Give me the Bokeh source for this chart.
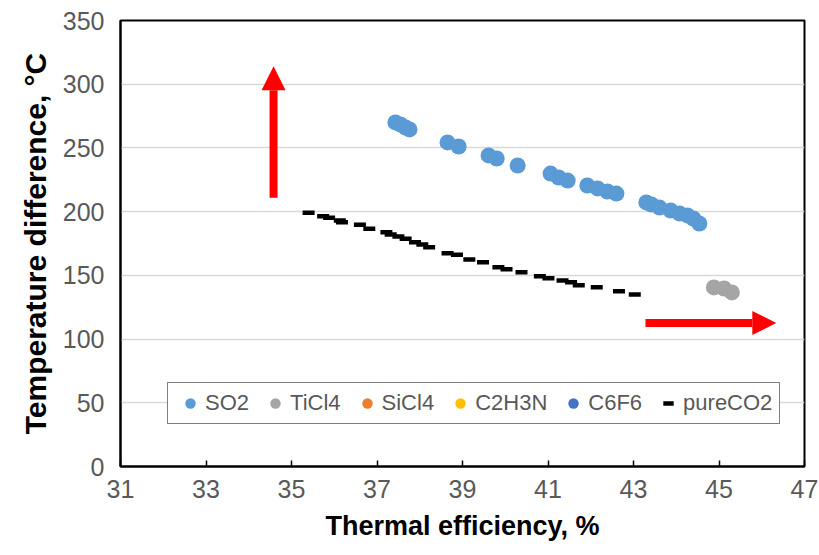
import numpy as np
from bokeh.plotting import figure
from bokeh.models import (Arrow, NormalHead, Legend, LegendItem, FixedTicker,
                          ColumnDataSource)
from bokeh.embed import file_html
from bokeh.resources import INLINE

# Thermal efficiency (%) vs. temperature difference (°C) for each working fluid
so2_eff = [37.43, 37.55, 37.67, 37.76, 38.65, 38.91, 39.61, 39.80, 40.29,
           41.06, 41.25, 41.46, 41.92, 42.16, 42.39, 42.60, 43.30, 43.42,
           43.61, 43.87, 44.08, 44.26, 44.40, 44.54]
so2_dt = [270.0, 268.4, 266.0, 264.5, 254.3, 251.1, 244.1, 241.7, 236.2,
          229.9, 226.8, 224.4, 220.5, 218.2, 215.8, 214.2, 207.2, 205.6,
          203.2, 200.9, 198.5, 197.0, 194.6, 190.7]

ticl4_eff = [44.88, 45.12, 45.30]
ticl4_dt = [140.5, 139.7, 136.6]

# no points in range for these fluids; they appear in the legend only
sicl4_eff, sicl4_dt = [np.nan], [np.nan]
c2h3n_eff, c2h3n_dt = [np.nan], [np.nan]
c6f6_eff, c6f6_dt = [np.nan], [np.nan]

pureco2_eff = [35.40, 35.74, 35.88, 36.13, 36.18, 36.60, 36.82, 37.22, 37.32,
               37.50, 37.67, 37.89, 38.06, 38.22, 38.65, 38.87, 39.16, 39.48,
               39.84, 40.03, 40.38, 40.81, 41.01, 41.34, 41.54, 41.72, 42.14,
               42.66, 43.03]
pureco2_dt = [199.1, 196.4, 195.2, 193.0, 191.7, 189.7, 186.5, 183.9, 182.1,
              180.5, 178.7, 176.0, 174.2, 172.1, 167.4, 166.1, 162.4, 160.3,
              156.4, 154.8, 152.5, 149.3, 147.8, 146.0, 144.6, 142.3, 140.7,
              137.6, 135.0]

x_ticks = [31, 33, 35, 37, 39, 41, 43, 45, 47]
y_ticks = [0, 50, 100, 150, 200, 250, 300, 350]

# trend arrows: (x_start, y_start, x_end, y_end)
arrow_up = (34.58, 211.0, 34.58, 314.0)
arrow_right = (43.28, 112.6, 46.34, 112.6)

FONT = "'Liberation Sans', Arial, sans-serif"
TEXT_GREY = "#595959"

p = figure(frame_width=684, frame_height=446, x_range=(31, 47), y_range=(0, 350),
           output_backend="svg", toolbar_location=None,
           min_border_left=120, min_border_right=15, min_border_top=20,
           min_border_bottom=89)
p.background_fill_color = "white"
p.border_fill_color = "white"
p.outline_line_color = "black"
p.outline_line_width = 2

p.xgrid.grid_line_color = None
p.ygrid.grid_line_color = "#D9D9D9"
p.ygrid.grid_line_width = 1.5

p.xaxis.ticker = FixedTicker(ticks=x_ticks)
p.yaxis.ticker = FixedTicker(ticks=y_ticks)
p.xaxis.minor_tick_line_color = None
p.yaxis.minor_tick_line_color = None
p.xaxis.major_tick_in = 6
p.xaxis.major_tick_out = 0
p.xaxis.major_tick_line_color = "black"
p.xaxis.major_tick_line_width = 1.5
p.yaxis.major_tick_line_color = None
p.xaxis.axis_line_color = "black"
p.xaxis.axis_line_width = 2
p.yaxis.axis_line_color = "black"
p.yaxis.axis_line_width = 2

for ax in (p.xaxis, p.yaxis):
    ax.major_label_text_font = FONT
    ax.major_label_text_font_size = "25px"
    ax.major_label_text_color = TEXT_GREY
    ax.axis_label_text_font = FONT
    ax.axis_label_text_font_style = "bold"
    ax.axis_label_text_color = "black"

p.xaxis.axis_label = "Thermal efficiency, %"
p.yaxis.axis_label = "Temperature difference, °C"
p.xaxis.axis_label_text_font_size = "27px"
p.yaxis.axis_label_text_font_size = "30px"
p.xaxis.major_label_standoff = 13
p.yaxis.major_label_standoff = 10
p.xaxis.axis_label_standoff = 10
p.yaxis.axis_label_standoff = 8

src_pure = ColumnDataSource(dict(x=pureco2_eff, y=pureco2_dt))
r_pure = p.scatter("x", "y", source=src_pure, marker="dash", size=12,
                   line_color="black", line_width=4.5)

r_so2 = p.scatter(so2_eff, so2_dt, size=16, fill_color="#5B9BD5",
                  line_color=None)
r_ticl4 = p.scatter(ticl4_eff, ticl4_dt, size=16, fill_color="#A5A5A5",
                    line_color=None)
r_sicl4 = p.scatter(np.array(sicl4_eff), np.array(sicl4_dt), size=16,
                    fill_color="#ED7D31", line_color=None)
r_c2h3n = p.scatter(np.array(c2h3n_eff), np.array(c2h3n_dt), size=16,
                    fill_color="#FFC000", line_color=None)
r_c6f6 = p.scatter(np.array(c6f6_eff), np.array(c6f6_dt), size=16,
                   fill_color="#4472C4", line_color=None)

for (x0, y0, x1, y1) in (arrow_up, arrow_right):
    p.add_layout(Arrow(end=NormalHead(size=24, fill_color="red",
                                      line_color="red", line_width=0),
                       x_start=x0, y_start=y0, x_end=x1, y_end=y1,
                       line_color="red", line_width=8))

legend = Legend(items=[
    LegendItem(label="SO2", renderers=[r_so2]),
    LegendItem(label="TiCl4", renderers=[r_ticl4]),
    LegendItem(label="SiCl4", renderers=[r_sicl4]),
    LegendItem(label="C2H3N", renderers=[r_c2h3n]),
    LegendItem(label="C6F6", renderers=[r_c6f6]),
    LegendItem(label="pureCO2", renderers=[r_pure]),
], orientation="horizontal", location=(47, 42))
legend.border_line_color = "black"
legend.border_line_width = 1.5
legend.background_fill_color = "white"
legend.background_fill_alpha = 1
legend.label_text_font = FONT
legend.label_text_font_size = "22px"
legend.label_text_color = TEXT_GREY
legend.glyph_width = 30
legend.glyph_height = 26
legend.label_standoff = 0
legend.spacing = 11
legend.padding = 7
legend.margin = 0
p.add_layout(legend)

open("out.html", "w").write(file_html(p, INLINE))
